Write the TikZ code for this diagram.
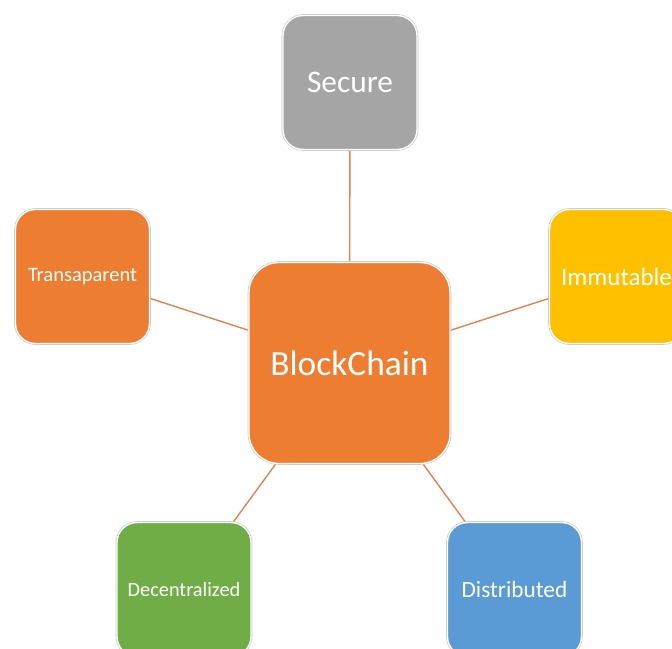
\documentclass[tikz,border=0pt]{standalone}
\usepackage{fontspec}
\setmainfont{Carlito}
\usetikzlibrary{backgrounds}
\definecolor{bcorange}{RGB}{237,125,49}
\definecolor{bcgray}{RGB}{165,165,165}
\definecolor{bcyellow}{RGB}{255,192,0}
\definecolor{bcgreen}{RGB}{112,173,71}
\definecolor{bcblue}{RGB}{91,155,213}
\definecolor{bcline}{RGB}{221,132,82}

\begin{document}
\begin{tikzpicture}[
    x=1pt, y=-1pt,
    feature/.style={
        preaction={draw=black!22, line width=2.6pt},
        draw=white,
        line width=1.4pt,
        rounded corners=20pt,
        minimum width=134pt,
        minimum height=134pt,
        inner sep=0pt,
        text=white,
        font=\fontsize{20.5}{24}\selectfont
    },
    link/.style={draw=bcline, line width=1.4pt}
]
    \useasboundingbox (0,0) rectangle (672,648);
    \clip (0,0) rectangle (672,648);

    % centre
    \node[feature, fill=bcorange, minimum width=201pt, minimum height=201pt,
        rounded corners=30pt, font=\fontsize{35.4}{40}\selectfont] (chain) at (349.5,363) {BlockChain};

    % properties
    \node[feature, fill=bcgray, font=\fontsize{31.4}{36}\selectfont] (secure) at (350,82.5) {Secure};
    \node[feature, fill=bcorange] (transparent) at (82.5,276.5) {Transaparent};
    \node[feature, fill=bcyellow, font=\fontsize{25}{30}\selectfont] (immutable) at (616.5,276.5) {Immutable};
    \node[feature, fill=bcgreen, font=\fontsize{20.3}{24}\selectfont] (decentral) at (184,589.5) {Decentralized};
    \node[feature, fill=bcblue, font=\fontsize{23.3}{28}\selectfont] (distributed) at (514.5,589.5) {Distributed};

    \begin{pgfonlayer}{background}
        \foreach \prop in {secure,transparent,immutable,decentral,distributed}
            \draw[link] (chain.center) -- (\prop.center);
    \end{pgfonlayer}
\end{tikzpicture}
\end{document}
